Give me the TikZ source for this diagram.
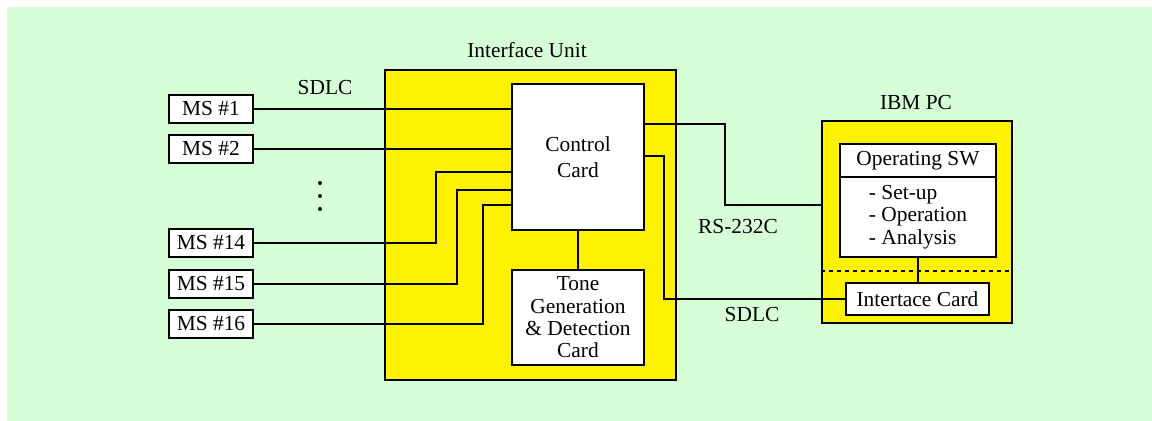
\documentclass[tikz,border=0pt]{standalone}
\usepackage{fontspec}
\setmainfont{Liberation Serif}
\newfontfamily\diagfont{Liberation Serif}
\definecolor{bggreen}{RGB}{215,255,215}

\begin{document}
\begin{tikzpicture}[x=0.5pt, y=-0.5pt, line width=0.7pt,
  font=\diagfont\fontsize{10.7}{11.2}\selectfont,
  msbox/.style={draw, fill=white, minimum width=42pt, minimum height=14pt, inner sep=0pt},
  cardbox/.style={draw, fill=white, align=center, inner sep=0pt},
  unitbox/.style={draw, fill=yellow, inner sep=0pt}]
  \useasboundingbox (0,0) rectangle (1152,421);
  \fill[bggreen] (7,7) rectangle (1152,421);

  % interface unit
  \node[unitbox, minimum width=145.5pt, minimum height=155pt] (iface) at (530.5,225) {};
  \node (ifacelbl) at (527,50) {Interface Unit};
  \node[cardbox, minimum width=66pt, minimum height=73pt, font=\diagfont\fontsize{10.7}{13.3}\selectfont] (ctrl) at (578,157) {Control\\Card};
  \node[cardbox, minimum width=66pt, minimum height=47.5pt] (tone) at (578,317.5) {Tone\\Generation\\\& Detection\\Card};
  \draw (ctrl.south) -- (tone.north);

  % mobile stations
  \foreach \n/\y in {1/109,2/149,14/243,15/284,16/324}
    \node[msbox] (ms\n) at (211,\y) {MS \#\n};
  \foreach \y in {183,196,209}
    \fill (320,\y) circle (1pt);
  \node (sdlctop) at (325,88) {SDLC};

  \draw (ms1.east) -- (ms1.east -| ctrl.west);
  \draw (ms2.east) -- (ms2.east -| ctrl.west);
  \draw (ms14.east) -| (436,172) -- (ctrl.west |- 436,172);
  \draw (ms15.east) -| (457,190) -- (ctrl.west |- 457,190);
  \draw (ms16.east) -| (483,205) -- (ctrl.west |- 483,205);

  % ibm pc
  \node[unitbox, minimum width=95pt, minimum height=101pt] (pc) at (917,222) {};
  \node (pclbl) at (916,103) {IBM PC};
  \node[cardbox, minimum width=78pt, minimum height=16.5pt] (opswhead) at (918,160.5) {Operating SW};
  \node[cardbox, minimum width=78pt, minimum height=40pt, align=left] (opswbody) at (918,217) {- Set-up\\- Operation\\- Analysis};
  \draw[dash pattern=on 2pt off 2pt] (pc.west |- 0,271) -- (pc.east |- 0,271);
  \node[cardbox, minimum width=71.5pt, minimum height=16pt] (ifcard) at (917.5,299) {Intertace Card};
  \draw (opswbody.south) -- (opswbody.south |- ifcard.north);

  % links to the pc
  \draw (ctrl.east |- 0,124) -| (725,205) -- (pc.west |- 0,205);
  \draw (ctrl.east |- 0,156) -| (664,299) -- (ifcard.west);
  \node (rs) at (738,227) {RS-232C};
  \node (sdlcbot) at (752,315) {SDLC};
\end{tikzpicture}
\end{document}
